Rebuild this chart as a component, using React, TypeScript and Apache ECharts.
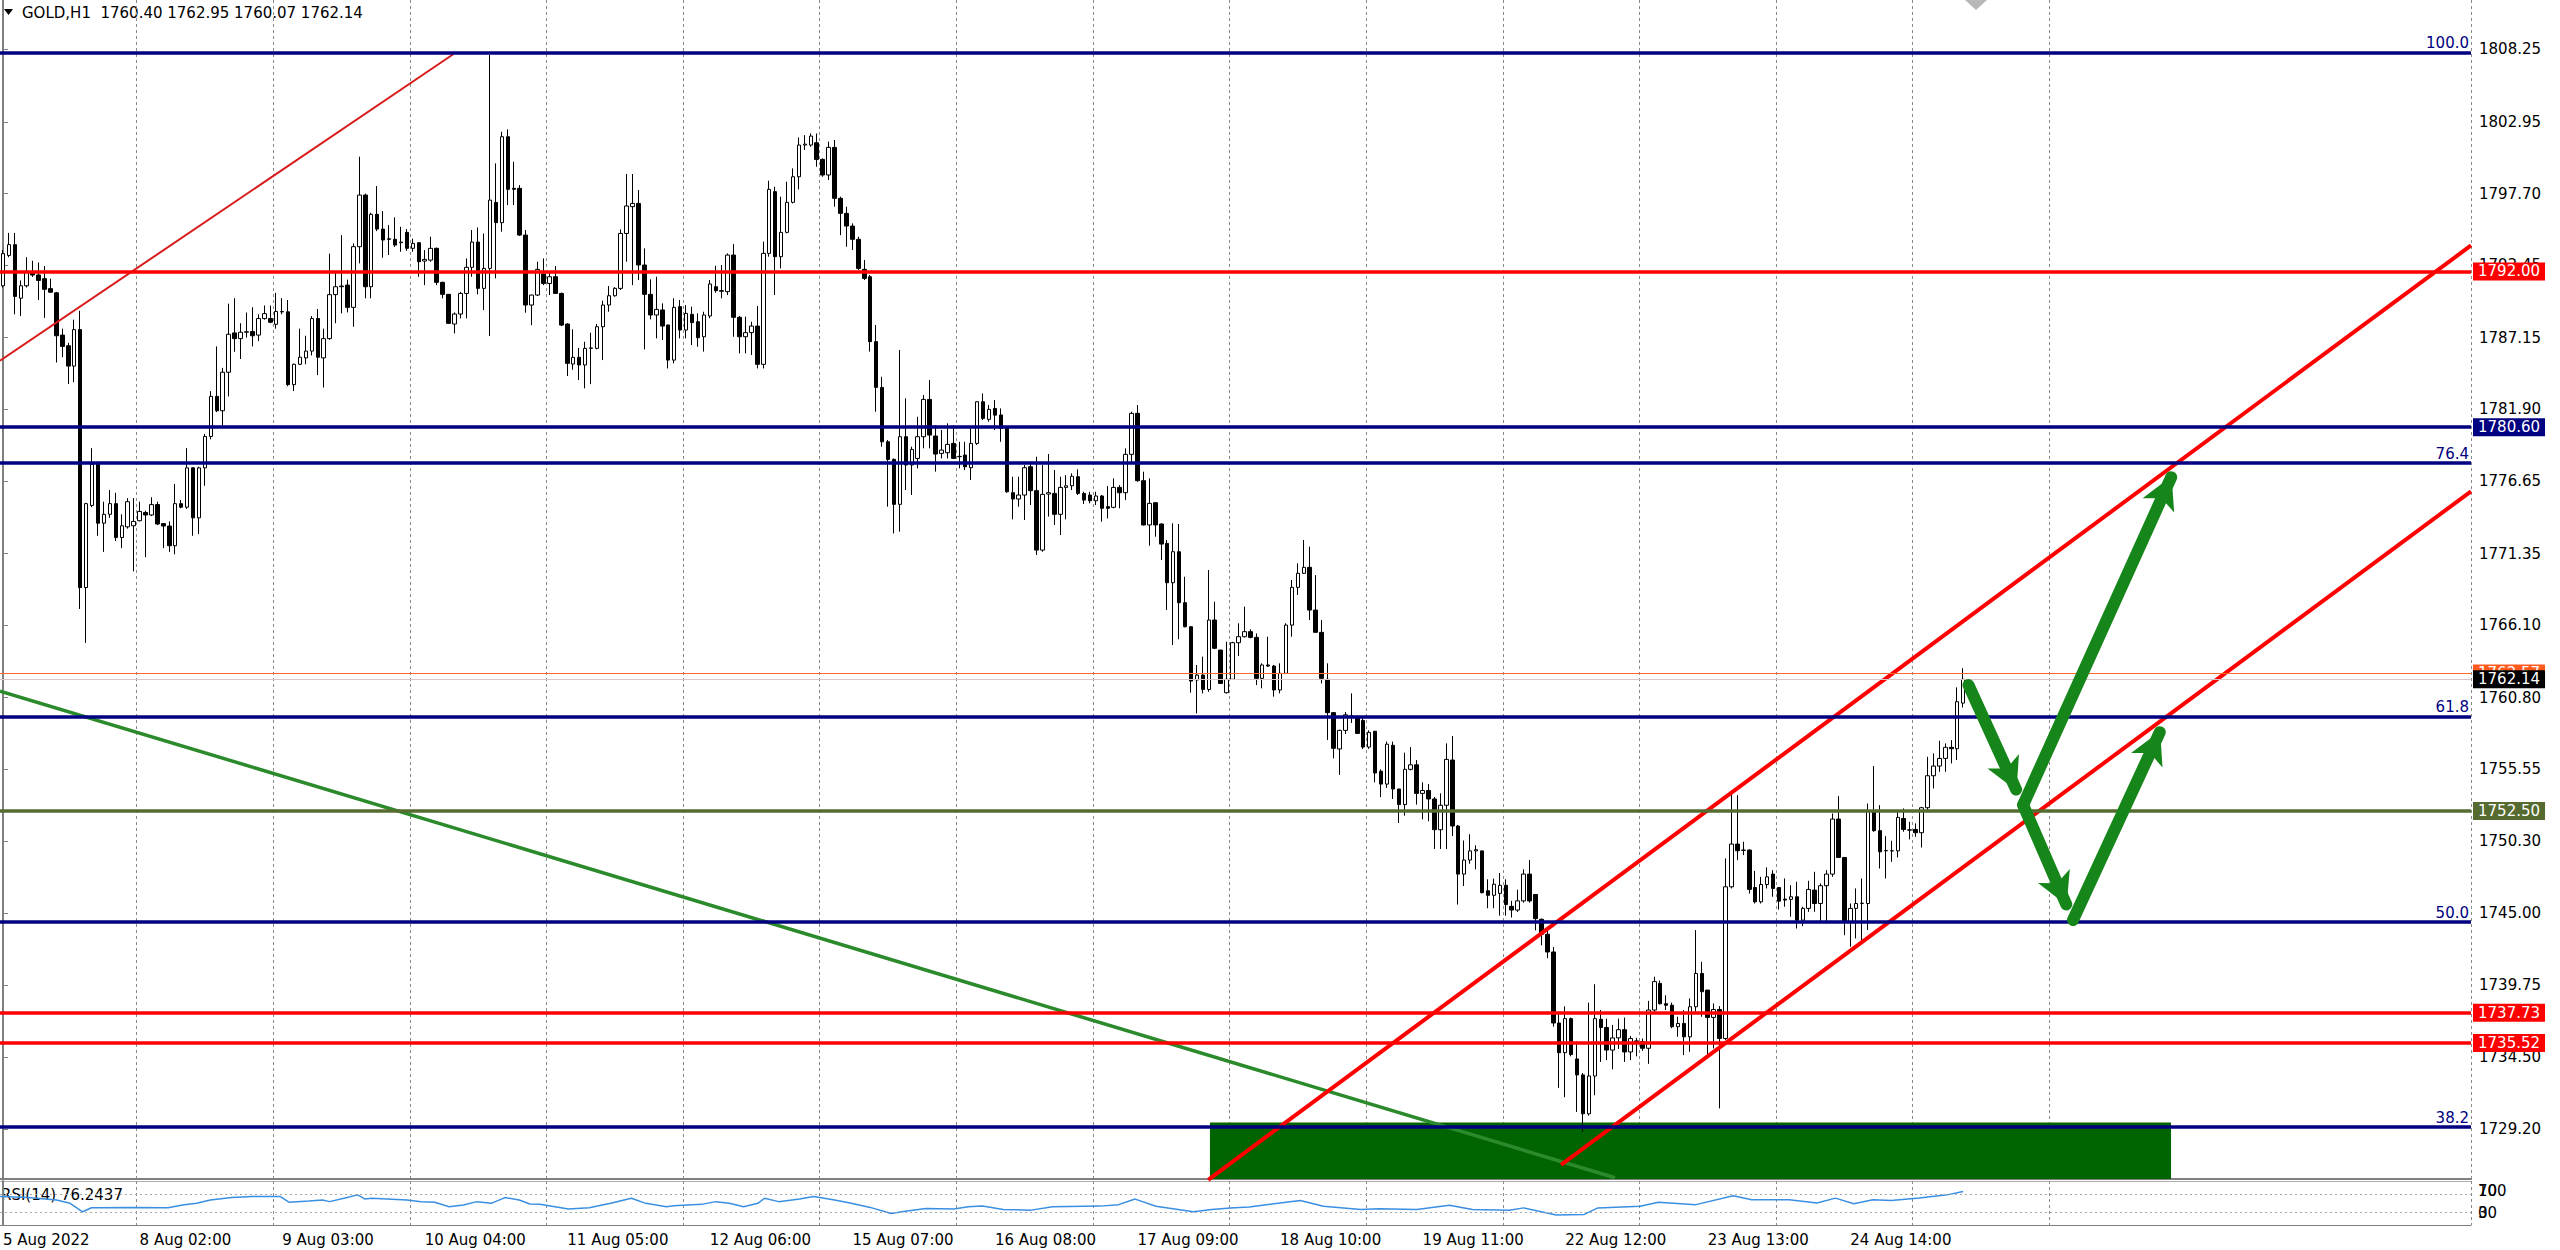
import { useEffect, useRef } from 'react';
import * as echarts from 'echarts';

const FONT = '"DejaVu Sans", Verdana, sans-serif';

// ---- axis data ----
const SLOT_COUNT = 416; // bar slots incl. the empty shift area on the right
const TICK_INDEX = [0, 23, 47, 71, 95, 119, 143, 167, 191, 215, 239, 263, 287, 311];
const TICK_LABELS = ['5 Aug 2022', '8 Aug 02:00', '9 Aug 03:00', '10 Aug 04:00', '11 Aug 05:00', '12 Aug 06:00', '15 Aug 07:00', '16 Aug 08:00', '17 Aug 09:00', '18 Aug 10:00', '19 Aug 11:00', '22 Aug 12:00', '23 Aug 13:00', '24 Aug 14:00'];
const GRID_EVERY = 23;
const GRID_LAST = 345;
const PRICE_TICKS = [1729.2, 1734.5, 1739.75, 1745.0, 1750.3, 1755.55, 1760.8, 1766.1, 1771.35, 1776.65, 1781.9, 1787.15, 1792.45, 1797.7, 1802.95, 1808.25];
const Y_MIN = 1725.56;
const Y_MAX = 1811.87;

// ---- GOLD H1 candles: [open, high, low, close] ----
const OHLC: number[][] = [
[1790.95,1793.57,1790.82,1793.30],[1793.17,1794.82,1793.04,1793.96],[1793.96,1794.82,1788.86,1790.17],[1790.04,1791.34,1788.73,1790.95],
[1790.95,1793.04,1790.82,1792.00],[1791.87,1792.78,1791.60,1791.74],[1791.74,1792.65,1789.91,1791.34],[1791.47,1792.39,1788.60,1790.69],
[1790.74,1791.47,1790.43,1790.48],[1790.43,1790.50,1785.33,1787.29],[1787.34,1787.81,1785.72,1786.51],[1786.56,1786.77,1783.76,1785.07],
[1785.07,1788.47,1783.89,1787.74],[1787.74,1789.12,1767.29,1768.86],[1768.86,1775.06,1764.81,1775.00],[1774.87,1779.06,1774.74,1777.88],
[1777.88,1777.95,1772.65,1773.57],[1773.57,1775.14,1771.47,1774.22],[1774.22,1776.00,1773.96,1775.00],[1775.00,1775.79,1772.26,1772.52],
[1772.52,1774.22,1771.74,1773.38],[1773.30,1775.40,1773.17,1775.14],[1773.38,1775.40,1770.04,1773.70],[1773.75,1775.14,1773.70,1774.43],
[1774.35,1774.48,1771.08,1774.17],[1774.17,1775.47,1774.09,1774.93],[1774.93,1775.14,1773.44,1773.51],[1773.54,1773.57,1771.74,1773.36],
[1773.36,1773.70,1771.47,1771.92],[1771.92,1776.44,1771.29,1775.00],[1775.00,1775.27,1774.66,1774.74],[1774.74,1779.06,1774.61,1777.62],
[1777.62,1777.67,1772.65,1773.96],[1773.96,1777.70,1772.78,1777.62],[1777.62,1780.10,1776.31,1779.92],[1779.92,1783.24,1779.71,1782.85],
[1782.85,1786.51,1781.70,1781.80],[1781.80,1784.94,1780.63,1784.62],[1784.62,1789.64,1782.85,1787.40],[1787.50,1790.04,1786.12,1787.08],
[1787.08,1788.21,1785.59,1787.55],[1787.55,1788.99,1787.16,1787.58],[1787.60,1789.38,1786.51,1787.29],[1787.34,1788.86,1786.90,1788.55],
[1788.55,1789.51,1788.47,1788.91],[1788.55,1789.50,1788.21,1788.28],[1788.13,1790.43,1787.81,1789.07],[1789.04,1790.04,1788.86,1789.06],
[1789.04,1789.91,1783.60,1783.71],[1783.71,1785.25,1783.24,1785.20],[1785.20,1787.81,1785.15,1785.72],[1785.67,1787.29,1785.20,1786.17],
[1786.17,1788.73,1785.85,1788.55],[1788.55,1789.25,1784.41,1785.72],[1785.67,1787.81,1783.50,1787.08],[1787.08,1793.30,1787.00,1790.30],
[1790.30,1792.00,1788.21,1790.88],[1790.88,1794.66,1788.93,1790.93],[1791.00,1791.40,1789.00,1789.37],[1789.37,1794.05,1787.95,1793.81],
[1793.81,1800.40,1792.59,1797.59],[1797.59,1797.70,1790.03,1790.88],[1790.88,1796.30,1790.03,1796.18],[1796.18,1798.25,1794.95,1795.10],
[1795.10,1796.42,1793.00,1794.30],[1794.39,1795.39,1793.20,1794.35],[1794.35,1795.96,1793.80,1793.93],[1794.10,1795.27,1793.44,1794.15],
[1794.86,1795.10,1793.50,1793.69],[1793.69,1794.40,1793.44,1794.05],[1794.10,1794.15,1791.61,1792.71],[1792.76,1793.56,1791.00,1792.88],
[1792.83,1794.54,1792.71,1793.69],[1793.69,1793.75,1791.00,1791.20],[1791.20,1791.25,1790.03,1790.32],[1790.32,1790.35,1788.15,1788.20],
[1788.15,1789.00,1787.46,1788.88],[1788.88,1790.50,1788.56,1790.39],[1790.39,1792.95,1788.56,1792.30],[1792.30,1795.03,1791.61,1794.15],
[1794.15,1795.22,1790.32,1790.76],[1790.76,1794.78,1789.17,1792.22],[1792.22,1807.84,1787.27,1797.22],[1797.05,1799.91,1791.49,1795.57],
[1795.57,1802.23,1794.91,1801.86],[1801.86,1802.40,1796.86,1798.01],[1798.08,1800.03,1796.86,1798.01],[1798.08,1798.32,1794.60,1794.66],
[1794.66,1795.03,1788.98,1789.54],[1789.54,1790.30,1788.07,1790.27],[1790.27,1792.71,1790.20,1792.15],[1791.81,1792.95,1791.00,1791.12],
[1791.12,1792.00,1790.27,1791.61],[1791.61,1792.39,1790.35,1790.39],[1790.39,1790.45,1788.00,1788.07],[1788.15,1788.20,1784.34,1785.27],
[1785.22,1787.76,1784.80,1785.71],[1785.71,1786.40,1784.05,1785.15],[1785.15,1786.85,1783.44,1786.37],[1786.37,1787.51,1783.75,1786.40],
[1786.37,1788.15,1786.30,1787.95],[1787.95,1789.86,1785.51,1789.54],[1789.54,1790.93,1789.05,1790.22],[1790.22,1790.85,1790.15,1790.76],
[1790.76,1795.08,1790.64,1794.78],[1794.78,1799.13,1792.71,1796.79],[1796.74,1799.13,1791.00,1796.98],[1796.98,1797.96,1791.37,1792.47],
[1792.47,1793.69,1786.29,1790.32],[1790.32,1791.42,1788.49,1788.81],[1788.81,1791.61,1787.10,1789.22],[1789.18,1789.66,1786.98,1788.00],
[1788.08,1788.10,1784.90,1785.51],[1785.51,1790.03,1785.27,1789.37],[1789.42,1789.91,1787.10,1787.71],[1787.71,1789.54,1787.10,1788.93],
[1788.86,1789.42,1786.61,1788.25],[1788.32,1788.93,1786.49,1787.15],[1787.22,1789.05,1786.13,1788.81],[1788.74,1791.37,1788.57,1791.08],
[1790.88,1792.42,1790.44,1790.59],[1790.59,1792.47,1790.03,1790.55],[1790.52,1793.32,1790.27,1793.20],[1793.20,1794.00,1787.22,1788.64],
[1788.64,1788.74,1786.00,1787.22],[1787.22,1788.69,1786.00,1787.52],[1787.52,1788.32,1785.88,1788.00],[1788.00,1789.47,1784.90,1785.20],
[1785.20,1794.18,1784.90,1793.32],[1793.32,1798.64,1793.08,1798.01],[1797.84,1798.20,1790.27,1793.08],[1793.08,1797.47,1792.22,1794.86],
[1794.86,1798.57,1794.79,1797.06],[1797.06,1799.54,1796.98,1798.93],[1798.93,1801.81,1798.01,1801.25],[1801.25,1801.98,1800.89,1801.32],
[1801.25,1802.10,1801.13,1801.91],[1801.42,1802.10,1799.66,1800.20],[1800.20,1800.28,1798.93,1799.06],[1799.06,1801.50,1798.69,1801.08],
[1801.08,1801.62,1796.74,1797.35],[1797.35,1797.47,1794.66,1796.25],[1796.25,1796.74,1793.81,1795.32],[1795.32,1795.52,1793.57,1794.35],
[1794.35,1794.54,1792.10,1792.22],[1792.15,1792.84,1791.37,1791.49],[1791.61,1791.74,1786.13,1786.86],[1786.86,1788.08,1781.73,1783.51],
[1783.51,1784.29,1779.17,1779.53],[1779.53,1779.66,1774.78,1778.24],[1778.24,1778.31,1772.82,1774.95],[1774.95,1786.25,1772.95,1779.90],
[1779.90,1782.71,1776.00,1777.83],[1777.83,1779.17,1775.63,1778.97],[1778.31,1781.36,1777.58,1779.90],[1779.90,1782.95,1779.05,1782.63],
[1782.63,1784.05,1779.05,1780.02],[1779.95,1780.75,1777.34,1778.63],[1778.68,1780.39,1778.31,1778.92],[1778.73,1780.88,1778.31,1779.34],
[1779.41,1780.75,1778.31,1778.31],[1778.44,1779.53,1777.58,1778.46],[1778.56,1779.53,1777.46,1777.70],[1777.63,1780.51,1776.73,1779.41],
[1779.41,1782.50,1779.30,1782.46],[1782.46,1783.07,1781.12,1781.24],[1781.17,1782.22,1781.00,1781.90],[1781.97,1782.58,1780.39,1781.48],
[1781.49,1781.97,1779.53,1780.51],[1780.51,1780.55,1775.80,1775.87],[1775.80,1776.97,1773.85,1775.34],[1775.34,1776.97,1774.78,1775.63],
[1775.63,1777.83,1773.80,1777.63],[1777.70,1778.07,1774.90,1775.95],[1775.95,1778.44,1771.24,1771.60],[1771.60,1777.83,1771.48,1775.68],
[1775.70,1778.63,1774.05,1775.80],[1775.75,1777.46,1773.44,1774.22],[1774.22,1776.97,1772.70,1776.19],[1776.19,1777.09,1773.85,1776.31],
[1776.31,1777.22,1776.00,1777.00],[1776.97,1777.51,1775.63,1775.75],[1775.75,1775.87,1774.97,1775.26],[1775.63,1775.87,1775.02,1775.21],
[1775.21,1775.87,1774.90,1775.56],[1775.56,1775.63,1773.68,1774.66],[1774.78,1776.29,1773.92,1774.66],[1774.73,1776.85,1774.66,1776.19],
[1776.19,1776.36,1774.66,1775.80],[1775.80,1779.05,1775.26,1778.61],[1778.61,1781.73,1778.07,1781.61],[1781.61,1782.22,1776.61,1776.68],
[1776.68,1777.34,1773.40,1773.44],[1773.44,1776.85,1771.92,1775.02],[1775.07,1775.10,1772.58,1773.44],[1773.51,1773.56,1770.87,1772.04],
[1772.09,1772.34,1767.21,1769.21],[1769.21,1773.56,1764.65,1771.48],[1771.48,1773.51,1765.07,1767.75],[1767.75,1769.65,1765.94,1765.99],
[1765.99,1766.00,1761.16,1762.01],[1762.09,1763.19,1759.65,1762.45],[1762.45,1763.80,1761.11,1761.40],[1761.40,1770.14,1761.23,1766.48],
[1766.48,1767.82,1764.35,1764.41],[1764.28,1764.30,1761.80,1761.84],[1761.16,1764.89,1761.10,1762.14],[1762.14,1764.89,1762.09,1764.82],
[1764.82,1766.24,1763.84,1765.26],[1765.26,1767.46,1765.20,1765.63],[1765.63,1765.80,1765.14,1765.21],[1765.21,1765.50,1761.72,1762.21],
[1762.21,1763.31,1761.48,1763.19],[1763.19,1765.26,1763.06,1763.11],[1763.11,1763.19,1760.87,1761.36],[1761.36,1763.31,1761.11,1762.58],
[1762.58,1766.24,1762.58,1766.11],[1766.11,1769.41,1765.26,1768.87],[1768.87,1770.63,1768.31,1769.90],[1769.90,1772.34,1769.85,1770.34],
[1770.34,1771.85,1766.48,1767.21],[1767.21,1769.77,1765.55,1765.58],[1765.58,1766.48,1761.84,1762.21],[1762.14,1763.31,1757.70,1759.70],
[1759.70,1759.75,1756.35,1757.09],[1757.04,1758.45,1755.14,1758.40],[1758.40,1759.75,1758.13,1759.54],[1759.40,1761.11,1758.94,1759.45],
[1759.40,1759.48,1758.13,1758.18],[1759.13,1759.35,1757.04,1757.18],[1757.18,1758.40,1757.04,1758.26],[1758.34,1758.34,1754.60,1755.28],
[1755.41,1755.55,1753.52,1754.47],[1754.47,1757.58,1754.19,1757.39],[1757.31,1757.58,1753.38,1754.11],[1754.11,1754.11,1751.62,1752.97],
[1752.97,1756.77,1752.16,1755.55],[1755.55,1757.18,1755.47,1755.88],[1755.88,1756.23,1752.97,1753.79],[1753.79,1754.60,1751.89,1754.00],
[1754.00,1754.47,1751.75,1753.38],[1753.38,1753.52,1749.72,1751.13],[1751.13,1753.79,1749.72,1752.92],[1752.92,1757.45,1749.72,1756.28],
[1756.23,1757.99,1750.67,1751.40],[1751.40,1751.48,1745.65,1747.88],[1747.88,1750.34,1747.01,1748.91],[1748.91,1750.80,1748.64,1749.58],
[1749.58,1749.99,1748.23,1749.67],[1749.58,1749.60,1746.47,1746.52],[1746.66,1747.50,1745.38,1746.33],[1746.33,1747.55,1745.38,1747.14],
[1746.47,1747.96,1744.84,1747.06],[1747.06,1747.50,1744.84,1745.65],[1745.52,1745.92,1744.70,1745.25],[1745.25,1746.74,1745.11,1745.92],
[1745.92,1748.23,1745.79,1747.88],[1747.88,1748.91,1745.79,1745.92],[1746.39,1746.39,1743.76,1744.62],[1744.57,1744.62,1742.67,1743.48],
[1743.48,1744.03,1741.72,1742.18],[1742.18,1742.54,1736.71,1736.98],[1736.98,1737.79,1732.23,1734.81],[1734.81,1738.20,1731.55,1737.30],
[1737.30,1737.38,1734.54,1734.67],[1734.35,1735.62,1730.47,1733.18],[1733.18,1733.32,1729.00,1730.33],[1730.33,1738.47,1730.20,1733.10],
[1733.10,1739.82,1731.69,1737.30],[1737.25,1737.93,1734.13,1736.65],[1736.65,1737.30,1734.26,1735.00],[1735.00,1736.84,1733.59,1735.89],
[1735.89,1737.30,1735.08,1736.49],[1736.49,1737.38,1734.13,1734.86],[1734.86,1736.03,1734.26,1735.84],[1735.67,1735.89,1734.54,1735.57],
[1735.62,1735.84,1734.94,1735.13],[1735.13,1738.60,1733.99,1737.93],[1737.93,1740.37,1737.79,1740.01],[1739.88,1740.09,1738.33,1738.39],
[1738.39,1739.01,1737.93,1738.28],[1738.28,1738.47,1736.60,1736.71],[1736.71,1737.44,1735.97,1736.95],[1736.95,1737.92,1734.63,1735.97],
[1735.97,1738.78,1734.87,1738.17],[1738.17,1743.78,1737.80,1740.61],[1740.61,1741.46,1737.44,1739.27],[1739.39,1739.39,1734.39,1737.39],
[1737.39,1738.41,1735.12,1737.97],[1737.97,1738.22,1730.73,1735.85],[1735.85,1749.03,1735.73,1746.95],[1746.95,1753.79,1746.83,1750.08],
[1750.08,1753.66,1748.90,1749.59],[1749.62,1750.25,1749.27,1749.64],[1749.64,1749.69,1746.46,1746.76],[1746.90,1748.12,1745.73,1745.85],
[1745.85,1747.68,1745.73,1747.12],[1747.12,1748.37,1746.83,1747.68],[1747.88,1748.17,1746.22,1746.83],[1746.90,1746.90,1745.29,1745.90],
[1746.05,1747.56,1745.49,1745.98],[1746.03,1747.07,1744.76,1746.22],[1746.22,1747.32,1743.90,1744.51],[1744.51,1745.49,1744.07,1745.37],
[1745.37,1747.39,1745.12,1746.76],[1746.71,1748.05,1745.12,1745.73],[1745.73,1747.20,1744.32,1747.03],[1747.03,1748.17,1744.27,1747.88],
[1747.88,1752.32,1747.68,1751.91],[1751.91,1753.59,1749.10,1749.10],[1749.10,1749.12,1743.41,1744.39],[1744.39,1745.73,1742.56,1745.37],
[1745.37,1746.83,1743.17,1745.73],[1745.73,1747.56,1743.05,1745.75],[1745.73,1753.05,1743.78,1752.52],[1752.52,1755.79,1750.98,1751.06],
[1751.06,1752.93,1748.29,1749.51],[1749.60,1750.66,1747.56,1749.59],[1749.59,1750.32,1748.78,1749.58],[1749.58,1752.44,1749.10,1752.03],
[1751.95,1752.69,1750.98,1751.15],[1751.12,1751.71,1750.42,1751.10],[1751.15,1751.59,1750.61,1750.91],[1750.91,1752.81,1749.83,1752.74],
[1752.74,1756.47,1752.57,1755.08],[1755.08,1756.72,1754.15,1755.79],[1755.79,1757.64,1755.37,1756.35],[1756.35,1757.45,1755.37,1757.16],
[1757.16,1757.69,1755.98,1757.06],[1757.06,1761.55,1756.23,1760.50],[1760.40,1762.95,1760.07,1762.14],
];

// ---- RSI(14): [bar position, value] ----
const RSI_POINTS: number[][] = [
[-0.5,64.6],[4.2,62.3],[9.0,56.9],[11.3,49.2],[13.4,30.0],[14.9,39.2],[21.9,40.0],[27.8,39.2],[30.2,45.4],[32.6,49.2],
[34.9,56.9],[38.5,62.3],[42.0,64.6],[46.7,64.6],[48.2,51.5],[51.5,54.6],[53.8,56.9],[55.0,53.1],[57.4,60.8],[59.7,68.5],
[60.9,59.2],[62.1,60.8],[68.0,56.9],[70.4,53.1],[72.7,51.5],[75.1,41.5],[77.5,45.4],[79.8,53.1],[82.2,49.2],[84.5,62.3],
[86.9,56.9],[88.7,47.7],[90.4,46.9],[95.2,36.2],[98.7,39.2],[102.3,49.2],[105.8,60.8],[108.2,49.2],[111.7,41.5],[112.9,43.8],
[117.6,46.9],[120.0,53.1],[122.3,49.2],[124.7,41.5],[127.1,49.2],[128.2,60.8],[130.6,53.1],[134.1,59.2],[136.5,64.6],[140.0,56.9],
[142.4,50.8],[146.0,40.0],[149.5,26.2],[151.9,31.5],[155.4,37.7],[160.1,36.2],[162.5,41.5],[164.9,43.1],[168.4,35.4],[173.1,33.8],
[176.7,41.5],[184.7,42.9],[187.8,46.3],[190.6,58.9],[194.1,42.6],[200.4,30.0],[203.5,35.2],[206.6,38.9],[209.8,41.1],[218.4,55.9],
[222.3,42.6],[228.6,35.2],[231.7,36.7],[238.0,35.2],[243.5,44.8],[247.4,35.2],[253.6,33.7],[256.0,38.9],[261.5,22.6],[266.2,24.1],
[268.5,38.9],[275.6,42.6],[278.7,51.5],[285.0,46.3],[291.3,66.3],[294.4,57.4],[300.7,57.4],[305.4,50.0],[308.5,61.1],[311.6,48.5],
[314.8,57.4],[317.9,55.9],[322.6,61.1],[327.3,68.5],[330.0,76.2],
];
const RSI_NOW = '76.2437';
const RSI_LEVELS = [70, 30];

// ---- objects drawn on the chart ----
const FIB_TEXT = ['38.2', '50.0', '61.8', '76.4', '100.0'];
const FIB_PRICES = [1729.35, 1744.37, 1759.39, 1777.97, 1808.0];
const LEVELS = [1792.0, 1780.6, 1752.5, 1737.73, 1735.52];
const BID = 1762.14;
const ASK = 1762.57;
const LEGEND = 'GOLD,H1  1760.40 1762.95 1760.07 1762.14';
const TREND_RED_THIN = [[-0.5, 1785.46], [75.8, 1807.9]];
const TREND_GREEN = [[-0.5, 1761.28], [271.4, 1725.65]];
const CHANNEL_UPPER = [[202.9, 1725.5], [415.5, 1793.9]];
const CHANNEL_LOWER = [[262.3, 1726.6], [415.5, 1775.9]];
const ZONE = [[203.2, 1729.7], [365.0, Y_MIN]];
const ARROWS = [
  [[330.9, 1761.72], [340.1, 1752.94]],
  [[340.1, 1752.94], [366.2, 1778.07]],
  [[340.1, 1752.94], [348.5, 1744.52]],
  [[348.5, 1744.52], [364.3, 1759.4]],
];

// styles
const LEVEL_COLORS = ['#ff0000', '#000080', '#556b2f', '#ff0000', '#ff0000'];
const NAVY = '#000080';
const AXIS_GRAY = '#808080';
const ARROW_GREEN = '#16861a';

const PLOT_W = 2471;
const MAIN_H = 1179;

function shorten(a: number[], b: number[], px: number) {
  const pxU = PLOT_W / SLOT_COUNT;
  const pxP = MAIN_H / (Y_MAX - Y_MIN);
  const dx = (b[0] - a[0]) * pxU;
  const dy = (b[1] - a[1]) * pxP;
  const f = px / Math.hypot(dx, dy);
  return [b[0] - (b[0] - a[0]) * f, b[1] - (b[1] - a[1]) * f];
}

function buildOption() {
  const slots = Array.from({ length: SLOT_COUNT }, (_, i) => String(i));
  const candleData = OHLC.map(([o, h, l, c]) => [o, c, Math.min(l, o, c), Math.max(h, o, c)]);
  const gridLine = (i: number) => i > 0 && i % GRID_EVERY === 0 && i <= GRID_LAST;
  const splitLine = {
    show: true,
    interval: gridLine,
    lineStyle: { color: '#8a8a8a', width: 1, type: [3, 3] },
  };
  const badge = (v: number, bg: string) => ({
    show: true,
    position: 'end',
    formatter: v.toFixed(2),
    color: '#ffffff',
    backgroundColor: bg,
    padding: [2, 5, 1, 5],
    fontSize: 15,
    fontFamily: FONT,
    distance: 2,
  });

  const hLines: any[] = [];
  FIB_PRICES.forEach((v, i) => {
    hLines.push({
      yAxis: v,
      lineStyle: { color: NAVY, width: 3.5, type: 'solid' },
      label: { show: true, position: 'insideEndTop', formatter: FIB_TEXT[i], color: NAVY, fontSize: 15, fontFamily: FONT, distance: 2 },
    });
  });
  LEVELS.forEach((v, i) => {
    hLines.push({ yAxis: v, lineStyle: { color: LEVEL_COLORS[i], width: 3.5, type: 'solid' }, label: badge(v, LEVEL_COLORS[i]) });
  });
  hLines.push({ yAxis: ASK, lineStyle: { color: '#ff6a2a', width: 1, type: 'solid' }, label: badge(ASK, '#ff5a1e') });
  hLines.push({ yAxis: BID, lineStyle: { color: '#d9c6c6', width: 1, type: 'solid' }, label: badge(BID, '#000000') });

  const arrowData = ARROWS.map(([a, b]) => [
    { coord: a },
    { coord: shorten(a, b, 17), symbol: 'arrow', symbolSize: [26, 32], symbolOffset: [0, -1] },
  ]);

  const trend = (data: number[][], color: string, width: number, extra: any = {}) => ({
    type: 'line',
    xAxisIndex: 1,
    yAxisIndex: 0,
    data,
    symbol: 'none',
    silent: true,
    clip: false,
    z: 4,
    lineStyle: { color, width },
    ...extra,
  });

  return {
    animation: false,
    backgroundColor: '#ffffff',
    grid: [
      { left: 0, top: 0, width: PLOT_W, height: MAIN_H },
      { left: 0, top: 1181, width: PLOT_W, height: 44 },
    ],
    xAxis: [
      {
        type: 'category', gridIndex: 0, data: slots, boundaryGap: true,
        axisLine: { show: true, lineStyle: { color: AXIS_GRAY, width: 2 } },
        axisTick: { show: false }, axisLabel: { show: false }, splitLine,
      },
      { type: 'value', gridIndex: 0, min: -0.5, max: SLOT_COUNT - 0.5, show: false, position: 'top' },
      {
        type: 'category', gridIndex: 1, data: slots, boundaryGap: true,
        axisLine: { show: true, lineStyle: { color: AXIS_GRAY, width: 1 } },
        axisTick: { show: false },
        axisLabel: {
          show: true,
          interval: (i: number) => TICK_INDEX.indexOf(i) >= 0,
          formatter: (_v: string, i: number) => TICK_LABELS[TICK_INDEX.indexOf(i)] ?? '',
          align: 'left',
          margin: 7,
          fontSize: 15,
          fontFamily: FONT,
          color: '#000',
        },
        splitLine,
      },
      { type: 'value', gridIndex: 1, min: -0.5, max: SLOT_COUNT - 0.5, show: false, position: 'top' },
    ],
    yAxis: [
      {
        type: 'value', gridIndex: 0, position: 'right', min: Y_MIN, max: Y_MAX,
        axisLine: { show: true, lineStyle: { color: AXIS_GRAY, width: 2 } },
        axisTick: { show: true, customValues: PRICE_TICKS, length: 5, lineStyle: { color: AXIS_GRAY } },
        axisLabel: {
          show: true, customValues: PRICE_TICKS, formatter: (v: number) => v.toFixed(2),
          fontSize: 15, fontFamily: FONT, color: '#000', margin: 8,
        },
        splitLine: { show: false },
      },
      {
        type: 'value', gridIndex: 1, position: 'right', min: 0, max: 100,
        axisLine: { show: true, lineStyle: { color: AXIS_GRAY, width: 2 } },
        axisTick: { show: false }, axisLabel: { show: false }, splitLine: { show: false },
      },
    ],
    series: [
      {
        type: 'candlestick',
        xAxisIndex: 0,
        yAxisIndex: 0,
        data: candleData,
        barWidth: 4,
        z: 2,
        silent: true,
        itemStyle: { color: '#ffffff', color0: '#000000', borderColor: '#000000', borderColor0: '#000000', borderWidth: 1 },
      },
      trend(TREND_RED_THIN, '#d81b1b', 2, {
        markLine: { silent: true, symbol: 'none', animation: false, data: hLines },
      }),
      trend(TREND_GREEN, '#2b8a2b', 3.5, {
        markArea: {
          silent: true,
          itemStyle: { color: '#006400', opacity: 1 },
          data: [[{ coord: ZONE[0] }, { coord: ZONE[1] }]],
        },
      }),
      trend(CHANNEL_UPPER, '#ff0000', 4),
      trend(CHANNEL_LOWER, '#ff0000', 4, {
        markLine: {
          silent: true,
          symbol: ['none', 'arrow'],
          animation: false,
          label: { show: false },
          lineStyle: { color: ARROW_GREEN, width: 12, type: 'solid', cap: 'round', opacity: 1 },
          data: arrowData,
        },
      }),
      {
        type: 'line',
        xAxisIndex: 3,
        yAxisIndex: 1,
        data: RSI_POINTS,
        symbol: 'none',
        silent: true,
        lineStyle: { color: '#3a8fe2', width: 1.5 },
        markLine: {
          silent: true,
          symbol: 'none',
          label: { show: false },
          lineStyle: { color: '#a8a8a8', width: 1, type: [2, 3] },
          data: RSI_LEVELS.map((v) => ({ yAxis: v })),
        },
      },
    ],
    graphic: [
      { type: 'polygon', shape: { points: [[4, 9], [13, 9], [8.5, 15]] }, style: { fill: '#000' } },
      { type: 'text', x: 22, y: 13, style: { text: LEGEND, fill: '#000', font: `15px ${FONT}`, verticalAlign: 'middle' } },
      { type: 'polygon', shape: { points: [[1965, 0], [1987, 0], [1976, 10]] }, style: { fill: '#b8b8b8' } },
      { type: 'line', shape: { x1: 0, y1: 1181.5, x2: PLOT_W, y2: 1181.5 }, style: { stroke: '#b0b0b0', lineWidth: 1 } },
      { type: 'text', x: 1, y: 1195, style: { text: `RSI(14) ${RSI_NOW}`, fill: '#000', font: `15px ${FONT}`, verticalAlign: 'middle' } },
      { type: 'text', x: 2478, y: 1191, style: { text: '100', fill: '#000', font: `15px ${FONT}`, verticalAlign: 'middle' } },
      { type: 'text', x: 2478, y: 1191, style: { text: '70', fill: '#000', font: `15px ${FONT}`, verticalAlign: 'middle' } },
      { type: 'text', x: 2478, y: 1213, style: { text: '30', fill: '#000', font: `15px ${FONT}`, verticalAlign: 'middle' } },
      { type: 'text', x: 2478, y: 1213, style: { text: '0', fill: '#000', font: `15px ${FONT}`, verticalAlign: 'middle' } },
    ],
  };
}

export default function App() {
  const ref = useRef<HTMLDivElement>(null);
  useEffect(() => {
    document.body.style.margin = '0';
    const chart = echarts.init(ref.current!, null, { renderer: 'svg' });
    chart.setOption(buildOption() as any);
    return () => chart.dispose();
  }, []);
  return (
    <div
      ref={ref}
      style={{ position: 'absolute', left: 0, top: 0, width: 2560, height: 1250, background: '#ffffff' }}
    />
  );
}
